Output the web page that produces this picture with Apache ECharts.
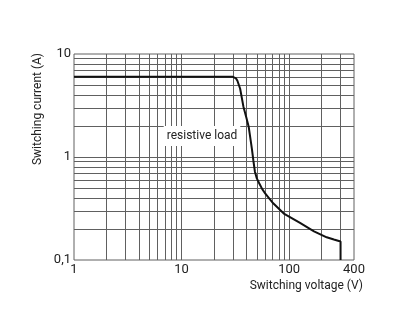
<!DOCTYPE html>
<html><head><meta charset="utf-8">
<script src="https://cdn.jsdelivr.net/npm/echarts@6/dist/echarts.min.js"></script>
<style>html,body{margin:0;padding:0;background:#fff}#c{width:400px;height:331px}</style>
</head><body><div id="c"></div>
<script>
const xTickLabels = [1, 10, 100, 400];
const yTickLabels = [0.1, 1, 10];
const xGridValues = [2,3,4,5,6,7,8,9,10,20,30,40,50,60,70,80,90,100,200,300];
const yGridValues = [0.2,0.3,0.4,0.5,0.6,0.7,0.8,0.9,1,2,3,4,5,6,7,8,9];
const voltage = [1, 30, 31, 32, 33, 35, 37.5, 40, 42, 45, 46.4, 48, 50, 52.6, 56, 60, 71, 90, 126, 170, 223, 260, 300, 300];
const current = [6, 6, 5.95, 5.8, 5.5, 4.6, 3.1, 2.4, 1.97, 1.2, 0.93, 0.72, 0.62, 0.556, 0.49, 0.44, 0.355, 0.28, 0.229, 0.19, 0.166, 0.158, 0.151, 0.1];
const FONT = '"Roboto", sans-serif';
const GRID = '#606060';

const chart = echarts.init(document.getElementById('c'), null, {renderer: 'canvas'});
chart.setOption({
  animation: false,
  grid: {left: 74, right: 46, top: 54, bottom: 71, show: true, borderColor: GRID, borderWidth: 1},
  xAxis: {
    type: 'log', logBase: 10, min: 1, max: 400,
    axisLine: {show: false}, axisTick: {show: false}, splitLine: {show: false},
    axisLabel: {customValues: xTickLabels, color: '#222', fontFamily: FONT, fontSize: 13, margin: 3,
      formatter: v => String(Math.round(v))}
  },
  yAxis: {
    type: 'log', logBase: 10, min: 0.1, max: 10,
    axisLine: {show: false}, axisTick: {show: false}, splitLine: {show: false},
    axisLabel: {customValues: yTickLabels, color: '#222', fontFamily: FONT, fontSize: 13, margin: 3,
      formatter: v => (v < 1 ? '0,1' : String(Math.round(v)))}
  },
  series: [{
    type: 'line',
    data: voltage.map((v, i) => [v, current[i]]),
    showSymbol: false,
    lineStyle: {color: '#111', width: 2},
    z: 5,
    markLine: {
      silent: true, symbol: 'none', animation: false,
      label: {show: false},
      lineStyle: {color: GRID, width: 1, type: 'solid'},
      data: xGridValues.map(v => ({xAxis: v})).concat(yGridValues.map(v => ({yAxis: v})))
    }
  }],
  graphic: [
    {type: 'text', x: 202, y: 136, z: 100, style: {text: 'resistive load', fill: '#222', font: '12px ' + FONT,
      align: 'center', verticalAlign: 'middle', backgroundColor: '#fff', padding: [4, 3]}},
    {type: 'text', x: 38, y: 109, rotation: Math.PI / 2, z: 100, style: {text: 'Switching current (A)', fill: '#222', font: '12px ' + FONT,
      align: 'center', verticalAlign: 'middle'}},
    {type: 'text', x: 363, y: 286, z: 100, style: {text: 'Switching voltage (V)', fill: '#222', font: '12px ' + FONT,
      align: 'right', verticalAlign: 'middle'}}
  ]
});
</script></body></html>
